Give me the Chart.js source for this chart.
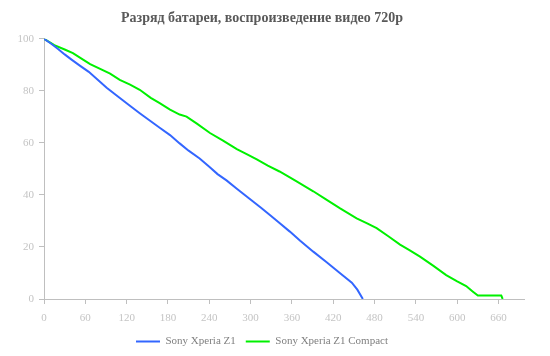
<!DOCTYPE html>
<html>
<head>
<meta charset="utf-8">
<script src="https://cdn.jsdelivr.net/npm/chart.js@4"></script>
<style>
  html, body { margin: 0; padding: 0; background: #fff; }
  #wrap { width: 550px; height: 356px; position: relative; }
</style>
</head>
<body>
<div id="wrap"><canvas id="myChart" width="550" height="356"></canvas></div>
<script>
// data
const chartTitle = "Разряд батареи, воспроизведение видео 720р";
const seriesNames = ["Sony Xperia Z1", "Sony Xperia Z1 Compact"];

const z1Minutes = [0, 10, 20, 30, 40, 52, 65, 78, 91, 105, 120, 139, 155, 168, 183, 197, 210, 226, 240, 252, 265, 280, 298, 316, 328, 342, 357, 372, 391, 410, 430, 447, 455, 463];
const z1Charge = [100, 98.2, 96.2, 94, 92, 89.7, 87.3, 84.3, 81.2, 78.3, 75.2, 71.4, 68.3, 65.8, 63, 59.8, 57, 54, 50.8, 48, 45.6, 42.4, 38.6, 34.9, 32.3, 29.2, 25.9, 22.4, 18.2, 14.2, 9.9, 6.3, 3.6, 0];

const compactMinutes = [0, 15, 30, 42, 55, 67, 80, 96, 110, 125, 139, 155, 168, 183, 197, 207, 222, 241, 260, 280, 295, 309, 325, 342, 365, 391, 410, 430, 454, 470, 483, 500, 517, 530, 546, 565, 584, 600, 613, 622, 630, 645, 664, 666];
const compactCharge = [100, 97.6, 95.9, 94.5, 92.3, 90.3, 88.6, 86.6, 84.2, 82.4, 80.4, 77.3, 75.3, 72.8, 70.9, 70.1, 67.4, 63.8, 60.9, 57.6, 55.6, 53.7, 51.3, 49, 45.5, 41.4, 38.2, 34.8, 31, 29, 27.2, 24.1, 20.9, 18.9, 16.3, 12.8, 9.2, 6.8, 5, 3, 1.3, 1.3, 1.3, 0];

const xTicks = [0, 60, 120, 180, 240, 300, 360, 420, 480, 540, 600, 660];
const yTicks = [0, 20, 40, 60, 80, 100];

function toPoints(xs, ys) {
  return xs.map((x, i) => ({ x: x, y: ys[i] }));
}

const serif = "'Liberation Serif', 'DejaVu Serif', serif";
const axisColor = "#bfbfbf";

// chart
{
  const ctx = document.getElementById("myChart");

  new Chart(ctx, {
    type: "line",
    data: {
      datasets: [
        {
          label: seriesNames[0],
          data: toPoints(z1Minutes, z1Charge),
          borderColor: "#3366ff",
          backgroundColor: "#3366ff",
          borderWidth: 2,
          pointRadius: 0,
          tension: 0,
        },
        {
          label: seriesNames[1],
          data: toPoints(compactMinutes, compactCharge),
          borderColor: "#00f000",
          backgroundColor: "#00f000",
          borderWidth: 2,
          pointRadius: 0,
          tension: 0,
        },
      ],
    },
    options: {
      responsive: false,
      animation: false,
      layout: {
        padding: { left: 0, right: 26, top: 0, bottom: -1 },
      },
      scales: {
        x: {
          type: "linear",
          min: 0,
          max: 697,
          border: { color: axisColor, width: 1 },
          grid: {
            drawOnChartArea: false,
            drawTicks: true,
            tickLength: 5,
            color: axisColor,
          },
          afterBuildTicks: (scale) => {
            scale.ticks = xTicks.map((v) => ({ value: v }));
          },
          ticks: {
            autoSkip: false,
            color: "#c4c4c4",
            padding: 8,
            maxRotation: 0,
            font: { family: serif, size: 11 },
          },
          afterFit: (scale) => {
            scale.height = 27;
          },
        },
        y: {
          min: 0,
          max: 100,
          border: { color: axisColor, width: 1 },
          grid: {
            drawOnChartArea: false,
            drawTicks: true,
            tickLength: 5,
            color: axisColor,
          },
          afterBuildTicks: (scale) => {
            scale.ticks = yTicks.map((v) => ({ value: v }));
          },
          ticks: {
            color: "#c4c4c4",
            padding: 5,
            font: { family: serif, size: 11 },
          },
          afterFit: (scale) => {
            scale.width = 44;
          },
        },
      },
      plugins: {
        title: {
          display: true,
          text: chartTitle,
          color: "#595959",
          font: { family: serif, size: 14, weight: "bold" },
          padding: { top: 10, bottom: 12 },
        },
        legend: {
          position: "bottom",
          labels: {
            usePointStyle: true,
            pointStyle: "line",
            pointStyleWidth: 24,
            boxHeight: 3,
            color: "#808080",
            padding: 10,
            font: { family: serif, size: 11 },
          },
        },
        tooltip: { enabled: false },
      },
    },
  });
}
</script>
</body>
</html>
